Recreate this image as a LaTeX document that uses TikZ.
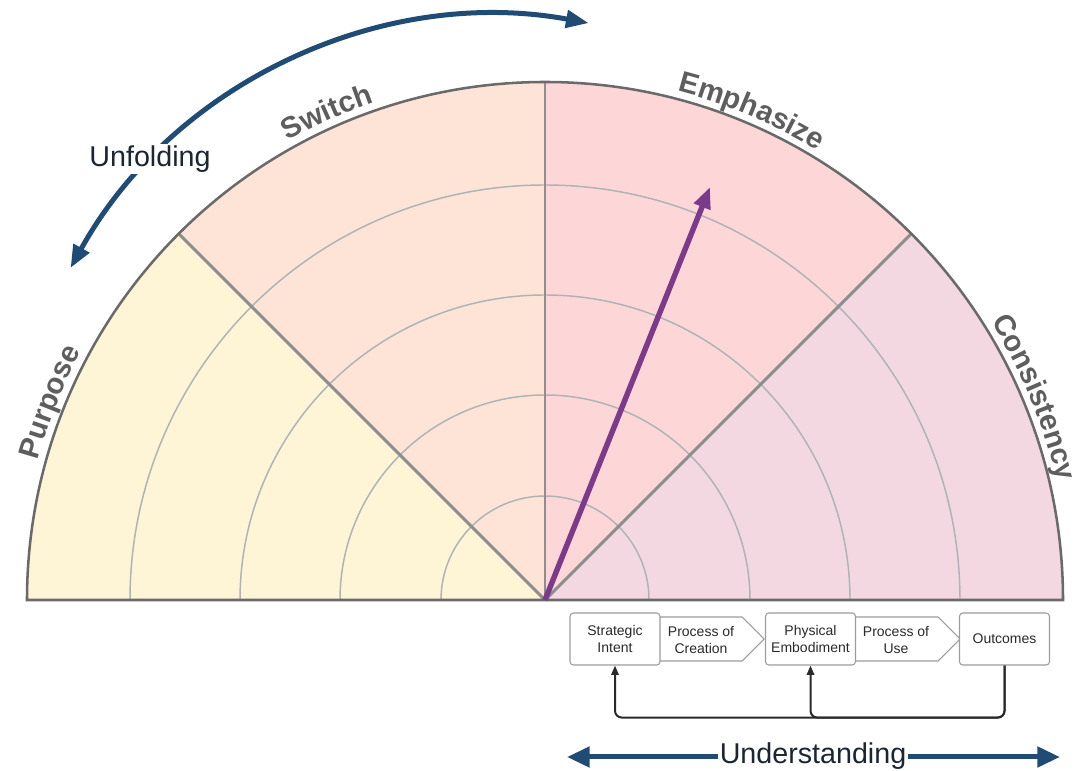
\documentclass[tikz,border=0pt]{standalone}
\usepackage{fontspec}
\setmainfont{Liberation Sans}
\usetikzlibrary{arrows.meta,calc,decorations.text}
\definecolor{cPurpose}{HTML}{FEF4D6}
\definecolor{cSwitch}{HTML}{FDE4D6}
\definecolor{cEmph}{HTML}{FDD7D8}
\definecolor{cCons}{HTML}{F3D8E2}
\definecolor{ringgray}{HTML}{AEB3B6}
\definecolor{secgray}{HTML}{8E8E8E}
\definecolor{outgray}{HTML}{6A6A6A}
\definecolor{labgray}{HTML}{5E5E5E}
\definecolor{navy}{HTML}{1F4B75}
\definecolor{purp}{HTML}{7B3A8A}
\definecolor{boxgray}{HTML}{9C9C9C}
\definecolor{txtcol}{HTML}{2A2A2A}
\definecolor{darktext}{HTML}{1B2533}
\newcommand{\lblfont}{\bfseries\fontsize{22}{22}\selectfont}
\begin{document}
\begin{tikzpicture}[x=0.75pt,y=0.75pt,
  ring/.style={draw=ringgray, line width=1.1pt},
  sectorline/.style={draw=secgray, line width=2.2pt},
  outerline/.style={draw=outgray, line width=1.9pt},
  lbl/.style={decorate, decoration={text along path, text align=center, text color=labgray, text={|\lblfont|#1}}},
  navyarrow/.style={draw=navy, line width=3.75pt, {Triangle[length=17pt,width=13pt]}-{Triangle[length=17pt,width=13pt]}},
  underarrow/.style={draw=navy, line width=3.75pt, {Triangle[length=17pt,width=15pt]}-{Triangle[length=17pt,width=15pt]}},
  purparrow/.style={draw=purp, line width=4.1pt, -{Triangle[length=16pt,width=12.5pt]}},
  pbox/.style={draw=boxgray, fill=white, rounded corners=2.5pt, line width=0.8pt, minimum width=67.5pt, minimum height=39pt, align=center, font=\fontsize{10.5}{12.75}\selectfont, text=txtcol, inner sep=1pt},
  pent/.style={draw=boxgray, fill=white, line width=0.8pt},
  ptext/.style={align=center, font=\fontsize{10.5}{12.75}\selectfont, text=txtcol, inner sep=1pt},
  fb/.style={draw=txtcol, line width=1.5pt, rounded corners=5pt, -{Triangle[length=7pt,width=5.5pt]}},
  bigtext/.style={fill=white, inner sep=1.2pt, text=darktext}
]
\useasboundingbox (0,0) rectangle (1078,771);
\coordinate (C) at (545,171);
% sectors
\fill[cPurpose] (C) -- +(180:518) arc[start angle=180,end angle=135,radius=518] -- cycle;
\fill[cSwitch] (C) -- +(135:518) arc[start angle=135,end angle=90,radius=518] -- cycle;
\fill[cEmph] (C) -- +(90:518) arc[start angle=90,end angle=45,radius=518] -- cycle;
\fill[cCons] (C) -- +(45:518) arc[start angle=45,end angle=0,radius=518] -- cycle;
% rings
\foreach \r in {104,205,305,415}{
  \draw[ring] (C) ++(0:\r) arc[start angle=0,end angle=180,radius=\r];
}
% sector lines
\foreach \a in {45,90,135}{
  \draw[sectorline] (C) -- ++(\a:518);
}
% outer
\draw[outerline] (C) ++(0:518) arc[start angle=0,end angle=180,radius=518] -- cycle;
% labels
\path[lbl=Purpose] (C) ++(188.2:526) arc[start angle=188.2,end angle=128.2,radius=526];
\path[lbl=Switch] (C) ++(144.1:526) arc[start angle=144.1,end angle=84.1,radius=526];
\path[lbl=Emphasize] (C) ++(97.1:526) arc[start angle=97.1,end angle=37.1,radius=526];
\path[lbl=Consistency] (C) ++(52.5:526) arc[start angle=52.5,end angle=-7.5,radius=526];
% purple arrow
\coordinate (ptip) at (710,584);
\draw[purparrow] (C) -- (ptip);
% unfolding arrow
\coordinate (UC) at (500,265);
\draw[navyarrow] (UC) ++(151:491) arc[start angle=151,end angle=79.6,radius=491];
\node[bigtext, font=\fontsize{21.5}{21.5}\selectfont] (unf) at (150,612) {Unfolding};
% process
\draw[pent] (650,154) -- (742,154) -- (764,132) -- (742,110) -- (650,110) -- cycle;
\draw[pent] (846,154) -- (938,154) -- (960,132) -- (938,110) -- (846,110) -- cycle;
\node[ptext] (pc) at (701,131) {Process of\\Creation};
\node[ptext] (pu) at (896,131) {Process of\\Use};
\node[pbox] (SI) at (615,132) {Strategic\\Intent};
\node[pbox] (PE) at (810.5,132) {Physical\\Embodiment};
\node[pbox] (OC) at (1004.5,132) {Outcomes};
\draw[fb] (OC.south) -- ++(0,-52) -| (SI.south);
\draw[fb] (OC.south) -- ++(0,-52) -| (PE.south);
% understanding
\coordinate (uL) at (567,14);
\coordinate (uR) at (1060,14);
\draw[underarrow] (uL) -- (uR);
\node[bigtext, font=\fontsize{21.5}{21.5}\selectfont, anchor=base] (und) at (813,7.5) {Understanding};
\end{tikzpicture}
\end{document}
